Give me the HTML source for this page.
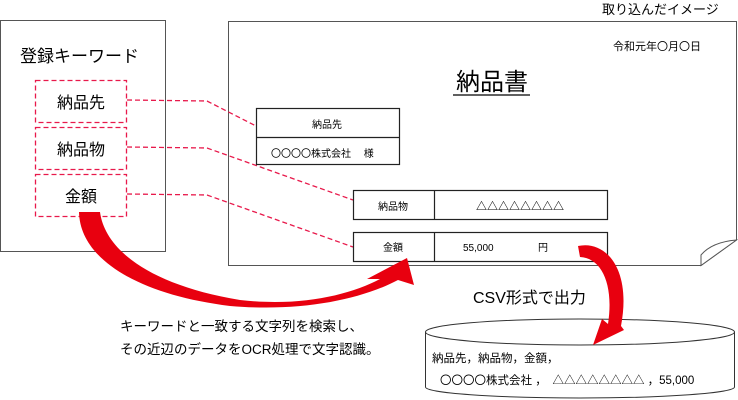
<!DOCTYPE html>
<html><head><meta charset="utf-8"><style>
html,body{margin:0;padding:0;background:#fff}
svg{display:block}
text{font-family:"Liberation Sans","Noto Sans CJK JP",sans-serif;fill:#000}
</style></head><body>
<svg width="738" height="400" viewBox="0 0 738 400" xmlns="http://www.w3.org/2000/svg">
<!-- left box -->
<rect x="0.5" y="20.5" width="165" height="231" fill="#fff" stroke="#555" stroke-width="1"/>
<text x="20" y="62" font-size="17">登録キーワード</text>

<!-- document -->
<path d="M228.5 21.5 H736.5 V240 L701 265.5 H228.5 Z" fill="#fff" stroke="#555" stroke-width="1"/>
<path d="M736.5 240 Q712 242 701 255 L701 265.5 Z" fill="#fff" stroke="#555" stroke-width="1"/>
<text x="602" y="14" font-size="13">取り込んだイメージ</text>
<text x="613" y="50" font-size="11">令和元年〇月〇日</text>
<text x="492" y="90" font-size="24" text-anchor="middle">納品書</text>
<line x1="453" y1="95" x2="530" y2="95" stroke="#000" stroke-width="1.3"/>

<g fill="none" stroke="#e8194b" stroke-width="1.3" stroke-dasharray="5,3">
<rect x="35.5" y="80.5" width="91" height="42"/>
<rect x="35.5" y="127.5" width="91" height="42"/>
<rect x="35.5" y="174.5" width="91" height="42"/>
<polyline points="127,100 207,101 256,126"/>
<polyline points="127,147 207,148 353,200"/>
<polyline points="127,194 207,195 353,247"/>
</g>
<text x="81" y="108" font-size="16" text-anchor="middle">納品先</text>
<text x="81" y="155" font-size="16" text-anchor="middle">納品物</text>
<text x="81" y="202" font-size="16" text-anchor="middle">金額</text>

<g fill="none" stroke="#222" stroke-width="1.2">
<rect x="256.5" y="108.5" width="143" height="56"/>
<line x1="256" y1="137.5" x2="400" y2="137.5"/>
<rect x="353.5" y="190.5" width="254" height="29"/>
<line x1="434.5" y1="190" x2="434.5" y2="220"/>
<rect x="353.5" y="232.5" width="254" height="29"/>
<line x1="434.5" y1="232" x2="434.5" y2="262"/>
</g>
<text x="327" y="128" font-size="10" text-anchor="middle">納品先</text>
<text x="271" y="157" font-size="10">〇〇〇〇株式会社　 様</text>
<text x="393" y="210" font-size="10" text-anchor="middle">納品物</text>
<text x="520" y="210" font-size="11" text-anchor="middle" font-weight="bold">△△△△△△△△</text>
<text x="393" y="251" font-size="10" text-anchor="middle">金額</text>
<text x="463" y="251" font-size="10">55,000</text>
<text x="538" y="251" font-size="10">円</text>

<!-- big arrow -->
<path d="M79 212 L100 212 C105 250 150 285 240 300 C300 307 350 295 380 279 L367 279 L407 258 L414 285 L398 280 C360 300 300 312 230 306 C140 295 80 260 79 212 Z" fill="#e8000f"/>

<text x="473" y="303" font-size="16">CSV形式で出力</text>
<text x="120" y="331" font-size="13.5">キーワードと一致する文字列を検索し、</text>
<text x="120" y="354" font-size="13.5">その近辺のデータをOCR処理で文字認識。</text>

<!-- cylinder -->
<path d="M425.5 332 V387 A154.5 11 0 0 0 734.5 387 V332" fill="#fff" stroke="#333" stroke-width="1"/>
<ellipse cx="580" cy="332" rx="154.5" ry="13" fill="#fff" stroke="#333" stroke-width="1"/>
<text x="432" y="362" font-size="11.5">納品先，納品物，金額，</text>
<text x="440" y="384" font-size="11.5">〇〇〇〇株式会社 ，　△△△△△△△△ ，55,000</text>

<!-- small arrow -->
<path d="M578 246 C605 240 632 268 621 326 L624 330 L593 345 L602 319 L608 324 C614 285 602 258 580 257 Z" fill="#e8000f"/>
</svg>
</body></html>
